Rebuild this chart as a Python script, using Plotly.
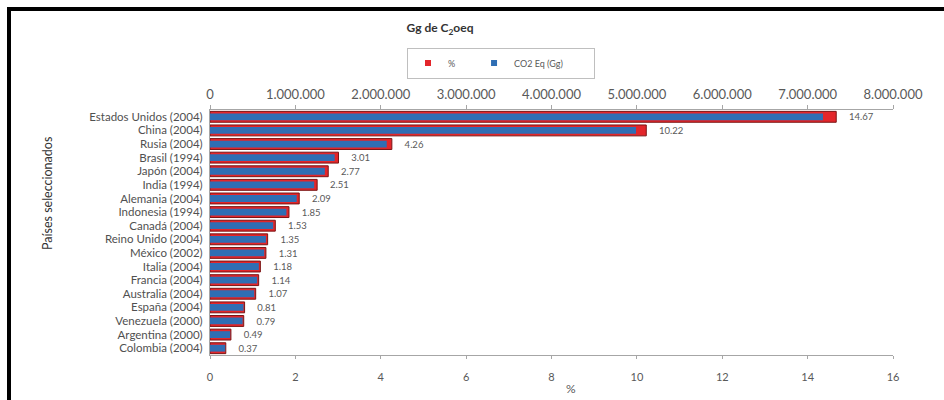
import plotly.graph_objects as go

# Countries (year of inventory), share of emissions and absolute CO2-eq
countries = [
    "Estados Unidos (2004)", "China (2004)", "Rusia (2004)", "Brasil (1994)",
    "Japón (2004)", "India (1994)", "Alemania (2004)", "Indonesia (1994)",
    "Canadá (2004)", "Reino Unido (2004)", "México (2002)", "Italia (2004)",
    "Francia (2004)", "Australia (2004)", "España (2004)", "Venezuela (2000)",
    "Argentina (2000)", "Colombia (2004)",
]
pct = [14.67, 10.22, 4.26, 3.01, 2.77, 2.51, 2.09, 1.85, 1.53, 1.35,
       1.31, 1.18, 1.14, 1.07, 0.81, 0.79, 0.49, 0.37]
co2_gg = [7180000, 4990000, 2070000, 1460000, 1345000, 1220000, 1015000,
          895000, 740000, 655000, 635000, 572000, 552000, 518000, 392000,
          382000, 236000, 178000]

pct_ticks = [0, 2, 4, 6, 8, 10, 12, 14, 16]
gg_ticks = [0, 1000000, 2000000, 3000000, 4000000, 5000000, 6000000, 7000000, 8000000]
gg_tick_labels = ["0", "1.000.000", "2.000.000", "3.000.000", "4.000.000",
                  "5.000.000", "6.000.000", "7.000.000", "8.000.000"]

RED = "#e3262b"
BLUE = "#2f6eb4"
GREY = "#595959"
FONT = "Lato, Open Sans, sans-serif"

fig = go.Figure()

fig.add_trace(go.Bar(
    name="%",
    y=countries, x=pct, orientation="h",
    xaxis="x", yaxis="y",
    width=0.8,
    marker=dict(color=RED, line=dict(color="#7a1515", width=1)),
    text=[f"{v:.2f}" for v in pct],
    texttemplate="    %{text}",
    textposition="outside",
    textfont=dict(size=10.5, color=GREY, family=FONT),
    cliponaxis=False,
    showlegend=False,
))

fig.add_trace(go.Bar(
    name="CO2 Eq (Gg)",
    y=countries, x=co2_gg, orientation="h",
    xaxis="x2", yaxis="y",
    width=0.5,
    marker=dict(color=BLUE, line=dict(width=0)),
    showlegend=False,
))

# Small square keys for the legend
legend_names = ["%" + "&nbsp;" * 6, "CO2 Eq (Gg)" + "&nbsp;" * 11]
for name, color in zip(legend_names, [RED, BLUE]):
    fig.add_trace(go.Scatter(
        name=name, x=[None], y=[None], mode="markers",
        xaxis="x", yaxis="y",
        marker=dict(symbol="square", size=6, color=color),
        showlegend=True,
    ))

L, R, T, B = 210, 893, 110, 355
W, H = 944, 400


def px_x(px):
    return (px - L) / (R - L)


def px_y(py):
    return (B - py) / (B - T)


fig.update_layout(
    width=W, height=H,
    margin=dict(l=L, r=W - R, t=T, b=H - B, pad=0),
    paper_bgcolor="white", plot_bgcolor="white",
    barmode="overlay",
    bargap=0.2,
    font=dict(family=FONT, color=GREY, size=11),
    title=dict(
        text="<b>Gg de C<sub>2</sub>oeq</b>",
        x=440 / W, xanchor="center",
        y=1 - 28 / H, yanchor="middle",
        font=dict(size=12, color="#333333", family=FONT),
    ),
    showlegend=True,
    legend=dict(
        orientation="h",
        x=px_x(501), xanchor="center",
        y=px_y(63), yanchor="middle",
        bordercolor="#bfbfbf", borderwidth=1,
        bgcolor="white",
        font=dict(size=9, color=GREY, family=FONT),
        traceorder="normal",
        itemwidth=30,
        tracegroupgap=0,
    ),
    xaxis=dict(
        range=[0, 16],
        tickvals=pct_ticks,
        ticktext=[str(v) for v in pct_ticks],
        side="bottom",
        showgrid=False, zeroline=False,
        showline=True, linecolor="#a6a6a6", linewidth=1,
        ticks="outside", ticklen=3, tickcolor="#a6a6a6",
        ticklabelstandoff=9,
        tickfont=dict(size=11, color=GREY),
        fixedrange=True,
    ),
    xaxis2=dict(
        range=[0, 8000000],
        overlaying="x",
        side="top",
        tickvals=gg_ticks,
        ticktext=gg_tick_labels,
        showgrid=False, zeroline=False,
        showline=True, linecolor="#a6a6a6", linewidth=1,
        ticks="outside", ticklen=4, tickcolor="#a6a6a6",
        ticklabelstandoff=1,
        tickfont=dict(size=13, color=GREY),
    ),
    yaxis=dict(
        categoryorder="array", categoryarray=countries,
        tickmode="array", tickvals=countries, ticktext=countries,
        autorange="reversed",
        showgrid=False, zeroline=False,
        showline=True, linecolor="#a6a6a6", linewidth=1,
        ticks="", ticklabelstandoff=4,
        tickfont=dict(size=11.5, color="#505050"),
    ),
    annotations=[
        dict(text="%", xref="paper", yref="paper",
             x=px_x(571), y=px_y(388), xanchor="center", yanchor="middle",
             showarrow=False, font=dict(size=12, color=GREY)),
        dict(text="Países seleccionados", xref="paper", yref="paper",
             x=px_x(47), y=px_y(194), xanchor="center", yanchor="middle",
             textangle=-90, showarrow=False,
             font=dict(size=12.5, color="#333333")),
    ],
    shapes=[
        dict(type="line", xref="paper", yref="paper",
             x0=px_x(9), x1=px_x(9), y0=px_y(402), y1=px_y(7),
             line=dict(color="black", width=4)),
        dict(type="line", xref="paper", yref="paper",
             x0=px_x(7), x1=px_x(946), y0=px_y(9), y1=px_y(9),
             line=dict(color="black", width=4)),
    ],
)

fig.write_html("out.html")
